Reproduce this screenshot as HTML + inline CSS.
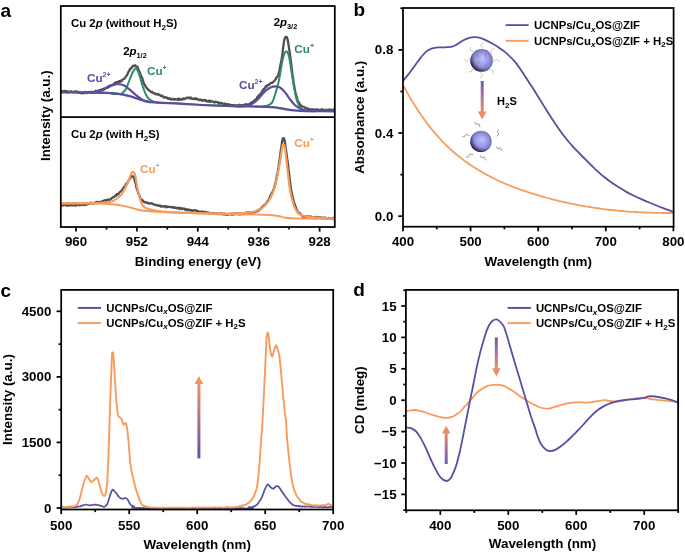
<!DOCTYPE html>
<html><head><meta charset="utf-8"><style>
html,body{margin:0;padding:0;background:#fff;width:685px;height:555px;overflow:hidden}
svg text{font-family:"Liberation Sans",sans-serif;font-weight:bold}
svg{will-change:transform}
</style></head><body>
<svg width="685" height="555" viewBox="0 0 685 555" style="display:block;font-family:'Liberation Sans',sans-serif;font-weight:bold"><text x="0.5" y="16.5" font-size="19" text-anchor="start" fill="#000" >a</text>
<text transform="translate(50.3,115.7) rotate(-90)" font-size="13.4" text-anchor="middle">Intensity (a.u.)</text>
<path d="M61.5,91 L61.9,91.5 L62.4,91.2 L63,91.6 L63.6,91.6 L64.3,90.9 L65.1,90.8 L65.8,92 L66.6,91.2 L67.3,91.2 L68,92.3 L68.7,91.6 L69.3,92.1 L70,91.6 L70.6,91.8 L71.2,91.2 L71.9,91.9 L72.6,92.2 L73.2,91.8 L73.9,92.1 L74.6,92 L75.2,91.2 L75.8,92.3 L76.4,92.1 L77,91.8 L77.6,91.5 L78.2,92.7 L78.8,92.3 L79.4,92.7 L80.1,93 L80.7,92.8 L81.3,93.2 L81.9,92.5 L82.5,93 L83.1,92.5 L83.7,93.2 L84.3,93.1 L84.9,92 L85.6,92 L86.2,92.1 L86.8,93.1 L87.4,92.3 L88,92.5 L88.6,92 L89.2,92.2 L89.8,92 L90.4,91.8 L91,92.1 L91.6,92 L92.2,92.4 L92.8,91.9 L93.5,92.2 L94.1,92 L94.7,92 L95.3,91.5 L95.9,90.7 L96.5,91.5 L97.1,91.5 L97.7,91.3 L98.4,90.7 L99,90.8 L99.6,89.9 L100.2,90.7 L100.9,90.2 L101.5,89.6 L102.1,89.1 L102.7,90.1 L103.2,90.1 L103.8,88.6 L104.5,89.3 L105.2,88.5 L105.8,87.8 L106.5,87.7 L107.1,88 L107.7,87.9 L108.3,86.3 L109,86.8 L109.6,85.7 L110.3,86.3 L110.9,85.3 L111.6,85.7 L112.3,85.5 L113,84.4 L113.6,84.8 L114.3,83.4 L114.9,82.8 L115.5,83.2 L116.2,82.1 L116.9,82.1 L117.5,82.2 L118.1,82.3 L118.7,81.4 L119.3,81.1 L119.9,81.9 L120.5,80.8 L121.2,81.3 L121.9,80.8 L122.5,79.6 L123.1,79.3 L123.7,79 L124.2,78.7 L125.1,77.7 L125.8,76.6 L126.5,75.7 L127.2,74.9 L127.9,73 L128.6,71.6 L129.2,71 L129.8,69.3 L130.4,68.5 L131,68.7 L131.7,67.3 L132.3,66.8 L133,65.7 L133.7,66.1 L134.5,66.1 L135.2,65.3 L135.9,66.2 L136.8,66.7 L137.5,66.9 L138.1,68.7 L138.8,70.2 L139.3,71.6 L139.9,72.6 L140.5,74.6 L141.2,76.3 L141.8,76.8 L142.5,78.8 L143.3,81.6 L144,83.9 L144.7,84.5 L145.5,86.3 L146.3,87.6 L147,88.2 L147.6,89.1 L148.1,89.7 L149.1,90.5 L149.6,91.1 L150.2,91.1 L150.8,91.5 L151.5,92.4 L152.2,91.8 L152.9,92.9 L153.6,93.4 L154.3,93.2 L154.9,93.3 L155.6,94.4 L156.2,93.8 L156.8,93.9 L157.4,94.4 L158,94.9 L158.7,94.2 L159.3,94.7 L160,95 L160.6,95.9 L161.1,95.6 L161.7,96.4 L162.3,95.7 L162.9,96.3 L163.5,97 L164.1,97.6 L164.7,97.3 L165.4,97.2 L166.1,97.3 L166.7,98 L167.2,97.7 L167.8,98.7 L168.4,98.9 L169,98.1 L169.7,98.4 L170.3,99.3 L170.9,99.2 L171.6,99.5 L172.2,99 L172.9,98.8 L173.5,99.1 L174.1,99.8 L174.7,99.1 L175.3,99.2 L175.9,99.3 L176.6,99.3 L177.2,99.3 L177.8,99.9 L178.4,98.8 L179,98.5 L179.6,99.8 L180.3,99.6 L180.9,99.7 L181.5,98.9 L182.1,99.5 L182.7,99.4 L183.3,98.4 L183.9,99 L184.6,99 L185.2,98.7 L185.8,98.4 L186.4,98 L187,98 L187.6,97.7 L188.2,97.5 L188.9,98.1 L189.5,97.7 L190.1,98.4 L190.7,97.4 L191.3,98.7 L192,98.4 L192.6,98.9 L193.2,98.9 L193.8,99.1 L194.5,98.7 L195.1,98.1 L195.7,99.2 L196.3,98.6 L197,98.9 L197.6,99.5 L198.2,99.4 L198.8,99.4 L199.4,100.2 L200.1,99.9 L200.7,99.6 L201.3,99.6 L201.9,100.5 L202.5,100.1 L203.1,100.6 L203.7,100.1 L204.4,100 L205,100.5 L205.6,101 L206.2,100.2 L206.8,101.2 L207.4,101.5 L208,101.4 L208.7,101.6 L209.3,100.5 L209.9,101.5 L210.5,101.9 L211.1,100.9 L211.7,101.3 L212.3,101.4 L213,101.9 L213.6,101.9 L214.2,102.1 L214.8,102.6 L215.4,101.6 L216.1,101.8 L216.7,102 L217.3,102.1 L217.9,102.2 L218.6,103.6 L219.2,103.5 L219.8,102.6 L220.4,103.3 L221.1,103.1 L221.7,103.2 L222.3,103.4 L222.9,103.9 L223.5,104 L224.2,103.8 L224.8,103.6 L225.4,103.9 L226,103.8 L226.6,104.5 L227.2,104.8 L227.8,104.5 L228.5,104.2 L229.1,104.4 L229.7,104.7 L230.3,105.1 L230.9,105.5 L231.5,105 L232.2,105.6 L232.8,105.4 L233.4,105.2 L234,105.2 L234.6,105.4 L235.2,105.7 L235.9,105.4 L236.5,105.8 L237.1,105.5 L237.7,105.2 L238.3,105.6 L239,105.7 L239.6,104.8 L240.3,105.3 L241,105.2 L241.7,105.8 L242.4,105.8 L243.1,104.9 L243.7,105.5 L244.4,105.3 L245,104.5 L245.6,104.6 L246.1,104.1 L246.9,104.9 L247.6,104.5 L248.2,104.7 L248.8,104.4 L249.4,104 L250,103.9 L250.5,103.5 L251,102.6 L251.8,103 L252.4,101.8 L253.1,101.7 L253.7,102.1 L254.3,100.6 L254.9,100 L255.6,99.3 L256.2,99.6 L256.9,97.9 L257.5,96.8 L258.1,97.2 L258.7,95.3 L259.4,95.5 L260,94.3 L260.8,93.6 L261.3,93 L261.9,91.7 L262.5,91.2 L263.2,89.3 L263.8,89.4 L264.5,88.3 L265.1,87.8 L265.7,86.3 L266.4,86.7 L267,86.4 L267.6,84.8 L268.2,84.8 L268.8,84.8 L269.4,84.8 L270,83.6 L270.7,83.1 L271.3,82.8 L272,82.9 L272.6,82.7 L273.2,81.8 L273.8,81.3 L274.6,80.6 L275.3,79.7 L275.9,78.8 L276.5,77.4 L277.3,76.7 L278,76 L278.6,73.5 L279.5,70.4 L280.3,65.5 L281.1,62.1 L281.9,57.8 L282.6,52.4 L283.2,47 L284.3,39.6 L285.1,37.5 L285.9,36.9 L286.7,36.9 L287.5,39 L288.2,42.8 L288.8,46.6 L290,54.2 L291.2,63.9 L292.4,73.9 L293,77.8 L293.6,82.2 L294.8,89.4 L295.5,93.2 L296.3,95.7 L296.9,97.5 L297.4,99.9 L298.1,101.8 L298.9,102.3 L299.7,104.1 L300.5,104.7 L301.3,106.1 L302,106.3 L302.9,106.5 L303.4,106.7 L304,106.8 L304.6,107.7 L305.2,107.9 L306,107.8 L306.5,108.3 L307,108.3 L307.6,109.1 L308.1,108.4 L308.7,109.7 L309.4,109.1 L310.2,109.3 L311,109.3 L311.5,109.8 L312,109.8 L312.5,109.5 L313,109.4 L313.5,109.8 L314.1,110 L314.6,109.4 L315.2,109.9 L315.8,110.3 L316.5,109.6 L317.1,109.3 L317.8,109.3 L318.5,110 L319.2,110 L320,110.4 L320.5,110.3 L321.1,109.5 L321.7,109.4 L322.3,109.5 L323,109.5 L323.6,110.2 L324.3,110.4 L325.1,110.5 L325.8,109.6 L326.5,110.5 L327.2,109.8 L327.9,109.9 L328.6,110.4 L329.3,109.5 L330,109.5 L330.6,110.6 L331.2,109.8 L331.8,109.9 L332.3,110.3 L332.8,110.4 L333.3,109.5 L333.7,110 L334,110.1" fill="none" stroke="#505050" stroke-width="2.3" stroke-linejoin="round" stroke-linecap="round" />
<path d="M61.5,91.8 C64.6,91.8 73,91.8 80,91.9 C87,92 97.4,92 103.8,92.2 C110.2,92.4 114.7,92.9 118.4,93.3 C122.1,93.7 123.6,94.2 126,94.7 C128.4,95.2 130.6,95.9 133,96.6 C135.4,97.3 137.9,98.4 140.3,99.1 C142.7,99.8 145.2,100.5 147.6,101 C150,101.5 152.6,101.6 155,101.8 C157.4,102 157.7,102.1 162.2,102.3 C166.7,102.5 175.8,102.9 182.1,103.2 C188.4,103.5 194.7,104.1 200,104.4 C205.3,104.7 208.2,104.8 214.2,105 C220.2,105.2 229.1,105.5 235.9,105.7 C242.7,105.9 249.9,105.9 255,106 C260.1,106.1 263.2,106.2 266.5,106.3 C269.8,106.5 272.6,106.7 275,106.9 C277.4,107.1 278.8,107.4 280.8,107.7 C282.8,108 284.9,108.6 287,108.9 C289.1,109.2 290.9,109.6 293.1,109.8 C295.3,110 297.2,110.2 300,110.3 C302.8,110.4 304.3,110.4 310,110.5 C315.7,110.6 330,110.7 334,110.7" fill="none" stroke="#2F8C66" stroke-width="1.0" stroke-linejoin="round" stroke-linecap="round" />
<path d="M112,93.9 C113,93.9 116.5,94 118,93.9 C119.5,93.9 120.4,93.9 121.3,93.6 C122.2,93.3 122.8,92.7 123.5,92 C124.2,91.3 125,90.5 125.7,89.2 C126.5,87.9 127.3,85.8 128,84 C128.7,82.2 129.4,80.3 130.1,78.5 C130.8,76.7 131.7,74.5 132.4,73 C133.1,71.5 133.9,70.1 134.5,69.4 C135.1,68.7 135.5,68.7 135.9,68.8 C136.3,68.9 136.8,69.3 137.2,69.8 C137.6,70.3 137.6,70.5 138.1,71.7 C138.6,72.9 139.4,75 140,77 C140.6,79 141.1,81.2 141.8,83.4 C142.5,85.6 143.3,88.1 144,90 C144.7,91.9 145.4,93.6 146.1,95 C146.8,96.4 147.6,97.4 148.3,98.2 C149,99 149.6,99.4 150.5,100 C151.4,100.6 152.8,101.2 154,101.6 C155.2,102 157.3,102.3 158,102.4" fill="none" stroke="#2F8C66" stroke-width="2.0" stroke-linejoin="round" stroke-linecap="round" />
<path d="M262,106.7 C262.8,106.6 265.1,106.4 266.5,105.9 C267.9,105.5 269.5,104.7 270.5,104 C271.5,103.3 271.9,103.3 272.7,101.5 C273.5,99.7 274.5,96.4 275.5,93 C276.5,89.6 277.6,86.8 278.8,81.1 C280,75.4 281.7,63.5 282.9,58.6 C284.1,53.7 285,51.8 286,51.5 C287,51.2 287.9,52 289,56.6 C290.1,61.2 291.6,73.1 292.6,79 C293.6,84.9 294.2,88.6 294.9,92 C295.5,95.4 295.9,97.2 296.5,99.3 C297.1,101.4 298,103.4 298.7,104.8 C299.4,106.2 299.6,106.7 300.6,107.6 C301.6,108.5 302.9,109.8 304.5,110.4 C306.1,111 309.1,111.1 310,111.2" fill="none" stroke="#2F8C66" stroke-width="2.0" stroke-linejoin="round" stroke-linecap="round" />
<path d="M61.5,92.4 C64.6,92.4 73,92.4 80,92.5 C87,92.6 97.4,92.6 103.8,92.8 C110.2,93 114.7,93.5 118.4,93.9 C122.1,94.3 123.6,94.8 126,95.3 C128.4,95.8 130.6,96.5 133,97.2 C135.4,97.9 137.9,99 140.3,99.7 C142.7,100.4 145.2,101.1 147.6,101.6 C150,102 152.6,102.2 155,102.4 C157.4,102.6 157.7,102.7 162.2,102.9 C166.7,103.1 175.8,103.5 182.1,103.8 C188.4,104.1 194.7,104.7 200,105 C205.3,105.3 208.2,105.4 214.2,105.6 C220.2,105.8 229.1,106.1 235.9,106.3 C242.7,106.5 249.9,106.5 255,106.6 C260.1,106.7 263.2,106.8 266.5,106.9 C269.8,107.1 272.6,107.3 275,107.5 C277.4,107.7 278.8,108 280.8,108.3 C282.8,108.6 284.9,109.2 287,109.5 C289.1,109.8 290.9,110.2 293.1,110.4 C295.3,110.6 297.2,110.8 300,110.9 C302.8,111 304.3,111 310,111.1 C315.7,111.2 330,111.3 334,111.3" fill="none" stroke="#5A4EA0" stroke-width="2.2" stroke-linejoin="round" stroke-linecap="round" />
<path d="M90,92.6 C91.1,92.5 94.2,92.6 96.5,92 C98.8,91.4 101.4,90.3 103.8,89.2 C106.2,88.1 108.7,86.3 111.1,85.5 C113.5,84.7 116.2,84.1 118.4,84.1 C120.6,84.1 122.2,84.5 124.2,85.5 C126.2,86.5 128.2,88.3 130.1,89.9 C132,91.5 133.9,93.4 135.9,95 C137.9,96.6 140.1,98.4 141.8,99.4 C143.5,100.5 144.6,100.8 146,101.3 C147.4,101.8 149.3,102 150,102.1" fill="none" stroke="#5A4EA0" stroke-width="2.2" stroke-linejoin="round" stroke-linecap="round" />
<path d="M238,106.4 C239.3,106.3 243.8,106.1 246,105.8 C248.2,105.5 249.5,105.1 251,104.4 C252.5,103.7 253.6,102.9 255,101.8 C256.4,100.7 257.9,99.3 259.2,98 C260.4,96.7 261.4,95.2 262.5,94 C263.6,92.8 264.4,91.7 265.7,90.6 C267,89.5 268.9,88.1 270.5,87.4 C272.1,86.7 273.8,86.3 275.4,86.3 C277,86.3 278.6,86.6 280.2,87.6 C281.8,88.6 283.5,90.5 285.1,92.4 C286.7,94.3 288.4,97.1 290,99.2 C291.6,101.3 293.2,103.5 294.8,105 C296.4,106.5 298.2,107.5 299.7,108.4 C301.2,109.3 302.3,109.8 304,110.2 C305.7,110.6 308,110.8 310,111 C312,111.2 315,111.2 316,111.2" fill="none" stroke="#5A4EA0" stroke-width="2.2" stroke-linejoin="round" stroke-linecap="round" />
<text x="71" y="27.1" font-size="11.4" text-anchor="start" fill="#000" >Cu 2<tspan font-style='italic'>p</tspan> (without H<tspan font-size='8' dy='2.5'>2</tspan><tspan dy='-2.5'>S)</tspan></text>
<text x="123.2" y="55.4" font-size="11.4" text-anchor="start" fill="#000" >2<tspan font-style='italic'>p</tspan><tspan font-size='7.4' dy='2.8'>1/2</tspan></text>
<text x="273.7" y="25.9" font-size="11.4" text-anchor="start" fill="#000" >2<tspan font-style='italic'>p</tspan><tspan font-size='7.4' dy='2.8'>3/2</tspan></text>
<text x="87" y="82" font-size="11.7" text-anchor="start" fill="#5A4EA0" >Cu<tspan font-size='7.2' dy='-5'>2+</tspan></text>
<text x="147" y="75" font-size="11.7" text-anchor="start" fill="#2F8C66" >Cu<tspan font-size='7.2' dy='-5'>+</tspan></text>
<text x="239" y="89" font-size="11.7" text-anchor="start" fill="#5A4EA0" >Cu<tspan font-size='7.2' dy='-5'>2+</tspan></text>
<text x="294.3" y="52.5" font-size="11.7" text-anchor="start" fill="#2F8C66" >Cu<tspan font-size='7.2' dy='-5'>+</tspan></text>
<path d="M61.5,204.9 L61.8,204.5 L62.2,205 L62.6,205.5 L63.1,204.8 L63.6,205 L64.1,204.4 L64.7,204.6 L65.2,205.2 L65.9,204.4 L66.5,205.5 L67.2,205.5 L67.8,204.4 L68.5,205.6 L69.2,204.8 L69.9,205.4 L70.7,205.4 L71.4,204.7 L72.1,205.3 L72.8,205.2 L73.6,205.4 L74.3,204.7 L75,205.4 L75.7,205.7 L76.3,205.2 L77,205 L77.6,204.4 L78.2,205 L78.8,204.8 L79.4,205.2 L79.9,205.2 L80.4,205 L81.2,204.4 L82,205 L82.7,204.9 L83.4,204.2 L84.1,205.1 L84.7,204.7 L85.3,203.9 L85.8,204.9 L86.4,203.7 L86.9,203.9 L87.4,204.3 L87.9,204 L88.5,203.9 L89,203.9 L89.5,203.5 L90.1,203.2 L90.7,202.9 L91.3,202.7 L91.9,203.5 L92.5,203.5 L93.1,203.1 L93.7,203.3 L94.3,202.7 L94.9,202.5 L95.5,202.6 L96.1,203.2 L96.7,201.9 L97.3,202.5 L97.9,202 L98.5,202.7 L99.1,202 L99.7,201.8 L100.3,201.8 L100.9,201.9 L101.5,202 L102.2,201.3 L102.8,201.8 L103.5,200.7 L104.2,200.7 L104.8,200.3 L105.5,200.2 L106.1,200.9 L106.8,200.7 L107.4,199.7 L108.1,199.5 L108.7,199.6 L109.3,199.8 L109.9,199.7 L110.5,199.3 L111.1,198.8 L111.8,197.8 L112.5,197.8 L113.2,197.1 L113.8,197.1 L114.5,196.7 L115.1,195.7 L115.8,195.3 L116.4,195.6 L117,194 L117.6,194.6 L118.2,194.2 L118.7,193.7 L119.3,192.4 L120,192 L120.7,191.3 L121.3,190.7 L122,190.4 L122.6,189.3 L123.2,188 L123.8,188 L124.3,186.8 L124.9,186.2 L125.4,185.7 L126.2,183.6 L127,183.6 L127.6,182.3 L128.3,181.1 L128.9,180.2 L129.5,179.2 L130.2,178 L130.9,177.6 L131.5,176.2 L132.1,176.4 L132.6,176.4 L133.3,176.4 L133.9,177.4 L134.6,179.9 L135.1,181.8 L135.7,183.2 L136.3,186.9 L137,189.4 L137.7,191 L138.3,193.1 L138.9,194.5 L139.5,195.7 L140.2,197.7 L140.9,199.4 L141.7,199.6 L142.2,200.8 L142.7,201 L143.1,200.6 L143.6,201.9 L144.2,201.7 L144.7,202.4 L145.4,202.3 L146.1,202.6 L146.9,202.3 L147.9,203.2 L148.4,203.5 L148.8,203.6 L149.3,203.2 L149.8,203.7 L150.4,203.5 L150.9,203.2 L151.5,203.2 L152,203.4 L152.6,203.8 L153.2,203.9 L153.8,204.5 L154.5,204.9 L155.1,204.9 L155.8,204.9 L156.5,205.3 L157.1,205 L157.8,205.4 L158.5,205.9 L159.2,205.6 L160,205.4 L160.7,206.6 L161.4,206.5 L162.2,206.1 L162.7,206.2 L163.3,206.5 L163.8,206.7 L164.4,206.3 L164.9,206 L165.5,206.4 L166.1,207.3 L166.7,206.5 L167.4,207 L168,206.7 L168.6,206.8 L169.3,206.8 L169.9,207.2 L170.6,207 L171.2,206.9 L171.9,207.1 L172.5,207.2 L173.2,207.7 L173.8,207.2 L174.5,207.2 L175.1,207.9 L175.7,207.9 L176.4,208.4 L177,207.6 L177.6,208.1 L178.2,208.2 L178.8,207.7 L179.4,209.1 L180,208.2 L180.5,208.1 L181.1,208.7 L181.6,208.3 L182.1,209 L182.6,208.7 L183.4,208.5 L184.1,208.5 L184.8,209.6 L185.5,209 L186.1,209.9 L186.7,209.5 L187.2,210.3 L187.8,209.5 L188.3,209.5 L188.8,209.6 L189.3,210.5 L189.8,210.3 L190.4,210 L190.9,209.8 L191.5,210.7 L192.1,211.2 L192.8,210.8 L193.5,210.1 L194.2,210.2 L195,210.4 L195.5,210.6 L196,210.5 L196.5,210.6 L197,211.5 L197.6,211.9 L198.1,211 L198.7,212.2 L199.2,211.6 L199.8,212.1 L200.4,212.4 L201,212.5 L201.6,211.3 L202.2,211.8 L202.8,212.3 L203.4,212.9 L204.1,211.7 L204.7,212.1 L205.3,213 L206,212 L206.6,212.5 L207.2,212.5 L207.9,213.1 L208.5,213.5 L209.1,212.5 L209.8,213.4 L210.4,213.4 L211.1,213.7 L211.7,213.3 L212.3,213.9 L212.9,213.2 L213.6,213.3 L214.2,213.1 L214.8,213.9 L215.4,213.6 L216,213.3 L216.6,213.2 L217.2,214 L217.8,213.9 L218.4,214.1 L219.1,213.7 L219.7,213.9 L220.3,213.4 L220.9,214.2 L221.6,213.3 L222.2,213.9 L222.8,214.4 L223.4,214.3 L224,213.5 L224.7,213.7 L225.3,214.6 L225.9,214.3 L226.5,214.7 L227.1,214.7 L227.8,214.1 L228.4,214.7 L229,214.5 L229.6,213.9 L230.2,214 L230.8,213.6 L231.4,214 L232,214.8 L232.5,213.6 L233.1,214.3 L233.7,213.6 L234.2,213.6 L234.8,214.3 L235.4,213.8 L235.9,213.5 L236.6,213.6 L237.3,214.3 L237.9,214.1 L238.6,213.3 L239.3,213.6 L240,214.6 L240.6,213.5 L241.3,213.9 L241.9,213.6 L242.6,214.1 L243.2,213.8 L243.9,214 L244.5,213.6 L245.1,213 L245.7,212.9 L246.3,212.7 L246.9,213.7 L247.5,212.6 L248.1,212.4 L248.7,213.7 L249.2,212.5 L249.7,213.4 L250.3,212.2 L250.8,212.6 L251.3,212.2 L251.7,213 L252.2,212.6 L253.1,212.4 L253.9,212.4 L254.6,212.4 L255.3,211.5 L255.9,211.6 L256.5,211.2 L257.1,210.5 L257.6,211.3 L258.1,210.7 L258.7,210.7 L259.2,209.5 L259.8,209.5 L260.4,208.9 L261,208.8 L261.7,207.4 L262.3,207.1 L263,206.7 L263.6,205.5 L264.3,205.5 L265,205 L265.6,203.8 L266.2,203.3 L266.9,202.5 L267.5,201.1 L268,200.4 L268.6,200.4 L269.3,198.3 L270,197.2 L270.6,195.4 L271.3,194.2 L271.9,192.8 L272.5,192.4 L273.1,190.6 L273.6,189.3 L274.2,187.8 L274.7,185.6 L275.5,183 L276.3,179.2 L276.9,175.6 L277.6,172.8 L278.2,169.2 L278.8,165.6 L279.5,160.3 L280.2,155.7 L280.8,150.1 L281.4,146.6 L281.9,143.1 L282.7,138.5 L283.3,139 L284,138.3 L284.9,141.9 L285.4,146.1 L286,149.8 L286.7,155 L287.4,160.3 L288,164.4 L288.6,170.2 L289.2,174.7 L289.8,180.1 L290.4,184.9 L291.1,189.8 L291.7,193.1 L292.3,195.5 L292.9,198.1 L293.6,201 L294.3,203.6 L295.1,205.3 L295.6,206.7 L296.2,208.7 L296.7,209.7 L297.3,211.1 L297.9,212.1 L298.6,212.8 L299.2,212.9 L299.9,213.4 L300.6,214.2 L301.3,215 L301.8,215.5 L302.3,215.9 L302.7,215.9 L303.1,216.8 L303.5,216.1 L304,216.5 L304.4,217.2 L305,217.1 L305.6,216.5 L306.4,216.5 L307.2,217.3 L308.2,216.3 L309.4,216.6 L309.8,217.2 L310.3,217.2 L310.7,216.8 L311.3,216.6 L311.8,216.9 L312.3,217.7 L312.9,217.4 L313.5,218.1 L314.2,217.9 L314.8,218.2 L315.5,216.9 L316.1,217.2 L316.8,217 L317.5,217.6 L318.2,217.5 L318.9,217.2 L319.7,217.9 L320.4,217.3 L321.1,217.7 L321.8,217.6 L322.6,218.4 L323.3,217.9 L324,217.7 L324.7,217.5 L325.4,218 L326.1,218.4 L326.8,218.5 L327.5,218.8 L328.1,218.7 L328.7,218 L329.3,217.8 L329.9,218.7 L330.5,218.8 L331,218.5 L331.6,218.9 L332,218.6 L332.5,218.2 L332.9,218.1 L333.3,217.9 L333.7,218.8 L334,219.2" fill="none" stroke="#505050" stroke-width="2.3" stroke-linejoin="round" stroke-linecap="round" />
<path d="M61.5,203.4 C68.1,203.4 90.9,203.1 100.9,203.4 C110.9,203.8 116.2,204.8 121.3,205.5 C126.4,206.2 128.1,207.1 131.5,207.9 C134.9,208.7 136.6,209.7 141.7,210.4 C146.8,211.1 152.5,211.5 162.2,212 C171.9,212.5 184.3,213 200,213.4 C215.7,213.8 243.5,214.1 256.3,214.5 C269.1,214.9 271.9,215.2 276.7,215.7 C281.5,216.2 281.5,217.2 284.9,217.7 C288.3,218.2 289,218.4 297.2,218.6 C305.4,218.8 327.9,218.8 334,218.8" fill="none" stroke="#F89B5C" stroke-width="2.0" stroke-linejoin="round" stroke-linecap="round" />
<path d="M61.5,203.4 C68.1,203.3 92.3,203.2 100.9,202.8 C109.5,202.4 109.7,202.2 113.1,200.8 C116.5,199.4 118.9,197.5 121.3,194.6 C123.7,191.7 125.7,187 127.4,183.4 C129.1,179.8 130.5,175.1 131.5,173.2 C132.5,171.3 132.6,171.9 133.2,172.2 C133.8,172.5 134.4,172.3 135.2,175.2 C135.9,178.1 136.6,184.7 137.7,189.5 C138.8,194.3 140.3,200.7 141.7,203.8 C143,206.9 143.1,206.7 145.8,207.9 C148.5,209.1 152,210.2 158.1,211 C164.2,211.8 176.4,212.5 182.6,212.8 C188.8,213.1 186.1,212.9 195,213 C203.9,213.1 226.4,213.8 235.9,213.6 C245.4,213.4 247.8,212.9 252.2,212 C256.6,211.1 259.3,210.3 262.4,207.9 C265.5,205.5 268.4,201.8 270.6,197.7 C272.8,193.6 274.2,189.2 275.7,183.4 C277.2,177.6 278.7,169.1 279.8,163 C280.9,156.9 281.7,149.7 282.3,146.6 C282.9,143.5 283.1,144.4 283.5,144.6 C283.9,144.8 284.3,144.2 284.9,147.6 C285.5,151 286.1,158 287,165 C287.9,172 288.8,182.7 290,189.5 C291.2,196.3 292.6,201.8 294.1,205.9 C295.6,210 296.6,212.2 299.2,214.1 C301.8,216 303.6,216.3 309.4,217.1 C315.2,217.8 329.9,218.3 334,218.6" fill="none" stroke="#F89B5C" stroke-width="2.2" stroke-linejoin="round" stroke-linecap="round" />
<text x="71" y="138.4" font-size="11.4" text-anchor="start" fill="#000" >Cu 2<tspan font-style='italic'>p</tspan> (with H<tspan font-size='8' dy='2.5'>2</tspan><tspan dy='-2.5'>S)</tspan></text>
<text x="140" y="172.8" font-size="11.7" text-anchor="start" fill="#F89B5C" >Cu<tspan font-size='7.2' dy='-5'>+</tspan></text>
<text x="294.2" y="146.6" font-size="11.7" text-anchor="start" fill="#F89B5C" >Cu<tspan font-size='7.2' dy='-5'>+</tspan></text>
<rect x="60.8" y="6" width="274.0" height="221" fill="none" stroke="#000" stroke-width="1.75"/>
<line x1="60.8" y1="117.2" x2="334.8" y2="117.2" stroke="#000" stroke-width="1.75"/>
<line x1="76" y1="227" x2="76" y2="231.6" stroke="#000" stroke-width="1.75"/>
<text x="76" y="246" font-size="13.3" text-anchor="middle" fill="#000" >960</text>
<line x1="136.9" y1="227" x2="136.9" y2="231.6" stroke="#000" stroke-width="1.75"/>
<text x="136.9" y="246" font-size="13.3" text-anchor="middle" fill="#000" >952</text>
<line x1="197.8" y1="227" x2="197.8" y2="231.6" stroke="#000" stroke-width="1.75"/>
<text x="197.8" y="246" font-size="13.3" text-anchor="middle" fill="#000" >944</text>
<line x1="258.7" y1="227" x2="258.7" y2="231.6" stroke="#000" stroke-width="1.75"/>
<text x="258.7" y="246" font-size="13.3" text-anchor="middle" fill="#000" >936</text>
<line x1="319.6" y1="227" x2="319.6" y2="231.6" stroke="#000" stroke-width="1.75"/>
<text x="319.6" y="246" font-size="13.3" text-anchor="middle" fill="#000" >928</text>
<line x1="106.5" y1="227" x2="106.5" y2="229.6" stroke="#000" stroke-width="1.75"/>
<line x1="167.3" y1="227" x2="167.3" y2="229.6" stroke="#000" stroke-width="1.75"/>
<line x1="228.2" y1="227" x2="228.2" y2="229.6" stroke="#000" stroke-width="1.75"/>
<line x1="289.1" y1="227" x2="289.1" y2="229.6" stroke="#000" stroke-width="1.75"/>
<text x="198" y="265.8" font-size="13.4" text-anchor="middle" fill="#000" >Binding energy (eV)</text>
<text x="353.5" y="16.3" font-size="19" text-anchor="start" fill="#000" >b</text>
<text transform="translate(364.3,117.3) rotate(-90)" font-size="13.4" text-anchor="middle">Absorbance (a.u.)</text>
<path d="M403.4,80.5 C404.3,79.3 407.3,75.8 409,73.6 C410.7,71.4 412,69.6 413.5,67.6 C415,65.5 416.5,63.3 418,61.3 C419.5,59.3 421,57.2 422.5,55.5 C424,53.8 425.5,52.1 427,51 C428.5,49.9 430,49.2 431.5,48.6 C433,48 434.5,47.8 436,47.6 C437.5,47.4 439,47.5 440.5,47.4 C442,47.3 443.6,47.3 445,47.3 C446.4,47.2 447.8,47.2 449,47.1 C450.2,47 451,46.9 452,46.6 C453,46.3 454,46 455,45.5 C456,45 456.6,44.7 458,43.8 C459.4,42.9 461.5,41.3 463.4,40.3 C465.3,39.3 467.3,38.4 469.2,37.9 C471.1,37.4 473.1,37 475,37.1 C476.9,37.2 478.9,37.6 480.9,38.2 C482.8,38.8 484.8,39.7 486.7,40.6 C488.6,41.5 490.7,42.7 492.6,43.8 C494.6,44.9 496.5,46 498.4,47.3 C500.3,48.6 502.2,49.8 504.2,51.4 C506.1,53 508.2,54.7 510.1,56.6 C512.1,58.5 514,60.5 515.9,62.9 C517.8,65.3 519.8,68.3 521.6,71 C523.5,73.7 525.2,76.5 527,79.3 C528.8,82.1 530.6,84.8 532.4,87.6 C534.2,90.4 536,93.3 537.8,96.2 C539.6,99.1 541.4,102 543.2,104.9 C545,107.8 546.8,110.8 548.6,113.6 C550.4,116.4 552.3,119.3 554.1,122 C555.9,124.7 557.7,127.4 559.5,129.9 C561.3,132.4 562.8,134.5 564.9,137.1 C567,139.7 569.5,142.8 572,145.6 C574.5,148.4 577.1,151 580,154 C582.9,157 586.8,160.8 589.6,163.6 C592.4,166.4 594.6,168.6 597,170.8 C599.4,173 601.8,175.1 604.2,177 C606.6,178.9 609.1,180.8 611.5,182.5 C613.9,184.2 616.4,185.8 618.8,187.3 C621.2,188.8 623.6,190.2 626,191.6 C628.4,193 630.9,194.3 633.4,195.5 C635.9,196.7 638.3,197.8 640.7,198.9 C643.1,200 645.6,201 648,202 C650.4,203 652.9,204 655.3,205 C657.7,206 660.5,207.1 662.6,207.9 C664.7,208.7 666.2,209.3 668,209.9 C669.8,210.5 672.5,211.3 673.4,211.6" fill="none" stroke="#5A4EA0" stroke-width="1.8" stroke-linejoin="round" stroke-linecap="round" />
<path d="M403.6,86.1 L405.6,89.8 L407.6,93.4 L409.6,96.9 L411.6,100.3 L413.6,103.5 L415.6,106.7 L417.6,109.8 L419.6,112.8 L421.6,115.8 L423.6,118.6 L425.6,121.3 L427.6,124 L429.6,126.6 L431.6,129.1 L433.6,131.5 L435.6,133.9 L437.6,136.2 L439.6,138.4 L441.6,140.5 L443.6,142.6 L445.6,144.6 L447.6,146.5 L449.6,148.4 L451.6,150.3 L453.6,152 L455.6,153.7 L457.6,155.4 L459.6,157 L461.6,158.6 L463.6,160.1 L465.6,161.6 L467.6,163 L469.6,164.4 L471.6,165.7 L473.6,167 L475.6,168.3 L477.6,169.6 L479.6,170.8 L481.6,171.9 L483.6,173.1 L485.6,174.2 L487.6,175.3 L489.6,176.3 L491.6,177.4 L493.6,178.4 L495.6,179.3 L497.6,180.3 L499.6,181.2 L501.6,182.1 L503.6,183 L505.6,183.8 L507.6,184.7 L509.6,185.5 L511.6,186.3 L513.6,187 L515.6,187.8 L517.6,188.5 L519.6,189.3 L521.6,190 L523.6,190.7 L525.6,191.3 L527.6,192 L529.6,192.7 L531.6,193.3 L533.6,193.9 L535.6,194.5 L537.6,195.2 L539.6,195.7 L541.6,196.3 L543.6,196.9 L545.6,197.5 L547.6,198 L549.6,198.5 L551.6,199.1 L553.6,199.6 L555.6,200.1 L557.6,200.6 L559.6,201.1 L561.6,201.5 L563.6,202 L565.6,202.4 L567.6,202.9 L569.6,203.3 L571.6,203.7 L573.6,204.1 L575.6,204.5 L577.6,204.9 L579.6,205.3 L581.6,205.7 L583.6,206 L585.6,206.4 L587.6,206.7 L589.6,207 L591.6,207.4 L593.6,207.7 L595.6,208 L597.6,208.2 L599.6,208.5 L601.6,208.8 L603.6,209.1 L605.6,209.3 L607.6,209.5 L609.6,209.8 L611.6,210 L613.6,210.2 L615.6,210.4 L617.6,210.6 L619.6,210.8 L621.6,211 L623.6,211.2 L625.6,211.3 L627.6,211.5 L629.6,211.6 L631.6,211.8 L633.6,211.9 L635.6,212 L637.6,212.1 L639.6,212.3 L641.6,212.4 L643.6,212.4 L645.6,212.5 L647.6,212.6 L649.6,212.7 L651.6,212.7 L653.6,212.8 L655.6,212.8 L657.6,212.9 L659.6,212.9 L661.6,212.9 L663.6,213 L665.6,213 L667.6,213 L669.6,213 L671.6,213 L673.4,213" fill="none" stroke="#F89B5C" stroke-width="1.8" stroke-linejoin="round" stroke-linecap="round" />
<rect x="403" y="8" width="270.6" height="218.7" fill="none" stroke="#000" stroke-width="1.75"/>
<line x1="403" y1="226.7" x2="403" y2="231.3" stroke="#000" stroke-width="1.75"/>
<text x="403" y="246.1" font-size="13.3" text-anchor="middle" fill="#000" >400</text>
<line x1="470.6" y1="226.7" x2="470.6" y2="231.3" stroke="#000" stroke-width="1.75"/>
<text x="470.6" y="246.1" font-size="13.3" text-anchor="middle" fill="#000" >500</text>
<line x1="538.2" y1="226.7" x2="538.2" y2="231.3" stroke="#000" stroke-width="1.75"/>
<text x="538.2" y="246.1" font-size="13.3" text-anchor="middle" fill="#000" >600</text>
<line x1="605.8" y1="226.7" x2="605.8" y2="231.3" stroke="#000" stroke-width="1.75"/>
<text x="605.8" y="246.1" font-size="13.3" text-anchor="middle" fill="#000" >700</text>
<line x1="673.4" y1="226.7" x2="673.4" y2="231.3" stroke="#000" stroke-width="1.75"/>
<text x="673.4" y="246.1" font-size="13.3" text-anchor="middle" fill="#000" >800</text>
<line x1="436.8" y1="226.7" x2="436.8" y2="229.3" stroke="#000" stroke-width="1.75"/>
<line x1="504.4" y1="226.7" x2="504.4" y2="229.3" stroke="#000" stroke-width="1.75"/>
<line x1="572" y1="226.7" x2="572" y2="229.3" stroke="#000" stroke-width="1.75"/>
<line x1="639.6" y1="226.7" x2="639.6" y2="229.3" stroke="#000" stroke-width="1.75"/>
<line x1="403" y1="216.2" x2="398.4" y2="216.2" stroke="#000" stroke-width="1.75"/>
<text x="393.3" y="220.7" font-size="13.3" text-anchor="end" fill="#000" >0.0</text>
<line x1="403" y1="133" x2="398.4" y2="133" stroke="#000" stroke-width="1.75"/>
<text x="393.3" y="137.5" font-size="13.3" text-anchor="end" fill="#000" >0.4</text>
<line x1="403" y1="49.9" x2="398.4" y2="49.9" stroke="#000" stroke-width="1.75"/>
<text x="393.3" y="54.4" font-size="13.3" text-anchor="end" fill="#000" >0.8</text>
<line x1="403" y1="174.6" x2="400.4" y2="174.6" stroke="#000" stroke-width="1.75"/>
<line x1="403" y1="91.5" x2="400.4" y2="91.5" stroke="#000" stroke-width="1.75"/>
<line x1="403" y1="8.3" x2="400.4" y2="8.3" stroke="#000" stroke-width="1.75"/>
<text x="538.3" y="265.7" font-size="13.4" text-anchor="middle" fill="#000" >Wavelength (nm)</text>
<line x1="505.6" y1="25.1" x2="528.6" y2="25.1" stroke="#5A4EA0" stroke-width="1.8"/>
<line x1="505.6" y1="40.8" x2="528.6" y2="40.8" stroke="#F89B5C" stroke-width="1.8"/>
<text x="534" y="29.3" font-size="11.4" text-anchor="start" fill="#000" >UCNPs/Cu<tspan font-style='italic' font-size='8' dy='2.5'>x</tspan><tspan dy='-2.5'>OS@ZIF</tspan></text>
<text x="534" y="44.8" font-size="11.4" text-anchor="start" fill="#000" >UCNPs/Cu<tspan font-style='italic' font-size='8' dy='2.5'>x</tspan><tspan dy='-2.5'>OS@ZIF + H</tspan><tspan font-size='8' dy='2.5'>2</tspan><tspan dy='-2.5'>S</tspan></text>
<defs><linearGradient id="gb" x1="0" y1="0" x2="0" y2="1"><stop offset="0" stop-color="#6A5CB8"/><stop offset="1" stop-color="#F08A6A"/></linearGradient><linearGradient id="gc" x1="0" y1="1" x2="0" y2="0"><stop offset="0" stop-color="#5E52B0"/><stop offset="1" stop-color="#F6915A"/></linearGradient><radialGradient id="sph" cx="0.5" cy="0.5" r="0.5" fx="0.56" fy="0.4"><stop offset="0" stop-color="#C2C2FF"/><stop offset="0.45" stop-color="#A2A2EC"/><stop offset="0.8" stop-color="#8686D2"/><stop offset="1" stop-color="#6A6AB4"/></radialGradient><radialGradient id="shd" cx="0.68" cy="0.3" r="0.9"><stop offset="0.58" stop-color="#15152E" stop-opacity="0"/><stop offset="0.74" stop-color="#15152E" stop-opacity="0.45"/><stop offset="0.84" stop-color="#15152E" stop-opacity="0.9"/><stop offset="1" stop-color="#15152E" stop-opacity="1"/></radialGradient></defs>
<rect x="480.7" y="81" width="3" height="31" fill="url(#gb)"/>
<path d="M477.8,111.5 L486.6,111.5 L482.2,119.5 Z" fill="#EE8B6E"/>
<text x="497" y="105.3" font-size="11" text-anchor="start" fill="#000" >H<tspan font-size='8' dy='2.5'>2</tspan><tspan dy='-2.5'>S</tspan></text>
<circle cx="481.6" cy="60.4" r="11.3" fill="url(#sph)"/>
<circle cx="481.6" cy="60.4" r="11.3" fill="url(#shd)"/>
<path d="M481.6,49.4 C481.7,49.3 482.1,49 482.2,48.8 C482.3,48.5 482.4,48.3 482.4,48.1 C482.4,47.9 482.3,47.7 482.1,47.4 C482,47.2 481.7,47 481.5,46.8 C481.3,46.6 481.1,46.4 481,46.1 C480.8,45.9 480.8,45.7 480.8,45.5 C480.9,45.3 481,45.1 481.2,44.9 C481.3,44.6 481.6,44.4 481.8,44.2 C482,44 482.2,43.8 482.3,43.5 C482.4,43.3 482.4,43 482.4,42.9" fill="none" stroke="#BFB598" stroke-width="0.8" stroke-linejoin="round" stroke-linecap="round" />
<path d="M489.4,52.6 C489.5,52.6 490,52.6 490.3,52.6 C490.5,52.5 490.7,52.4 490.9,52.3 C491,52.1 491.1,51.9 491.1,51.6 C491.2,51.3 491.1,51 491.1,50.7 C491.2,50.4 491.1,50.1 491.2,49.9 C491.3,49.6 491.4,49.4 491.6,49.3 C491.8,49.2 492,49.1 492.3,49.1 C492.6,49.1 492.9,49.1 493.2,49.1 C493.5,49.1 493.8,49.1 494,49 C494.2,48.9 494.4,48.6 494.5,48.6" fill="none" stroke="#BFB598" stroke-width="0.8" stroke-linejoin="round" stroke-linecap="round" />
<path d="M492.6,60.4 C492.7,60.5 493,60.9 493.2,61 C493.5,61.1 493.7,61.2 493.9,61.2 C494.1,61.2 494.3,61.1 494.6,60.9 C494.8,60.8 495,60.5 495.2,60.3 C495.4,60.1 495.6,59.9 495.9,59.8 C496.1,59.6 496.3,59.6 496.5,59.6 C496.7,59.7 496.9,59.8 497.2,60 C497.4,60.1 497.6,60.4 497.8,60.6 C498,60.8 498.2,61 498.5,61.1 C498.7,61.2 499,61.2 499.1,61.2" fill="none" stroke="#BFB598" stroke-width="0.8" stroke-linejoin="round" stroke-linecap="round" />
<path d="M489.4,68.2 C489.4,68.3 489.4,68.8 489.4,69.1 C489.5,69.3 489.6,69.5 489.7,69.7 C489.9,69.8 490.1,69.9 490.4,69.9 C490.7,70 491,69.9 491.3,69.9 C491.6,70 491.9,69.9 492.1,70 C492.4,70.1 492.6,70.2 492.7,70.4 C492.8,70.6 492.9,70.8 492.9,71.1 C492.9,71.4 492.9,71.7 492.9,72 C492.9,72.3 492.9,72.6 493,72.8 C493.1,73 493.4,73.2 493.4,73.3" fill="none" stroke="#BFB598" stroke-width="0.8" stroke-linejoin="round" stroke-linecap="round" />
<path d="M481.6,71.4 C481.5,71.5 481.1,71.8 481,72.1 C480.9,72.3 480.8,72.5 480.8,72.7 C480.8,72.9 480.9,73.1 481.1,73.4 C481.2,73.6 481.5,73.8 481.7,74 C481.9,74.2 482.1,74.4 482.2,74.7 C482.4,74.9 482.4,75.1 482.4,75.3 C482.3,75.5 482.2,75.7 482,76 C481.9,76.2 481.6,76.4 481.4,76.6 C481.2,76.8 481,77 480.9,77.2 C480.8,77.5 480.8,77.8 480.8,77.9" fill="none" stroke="#BFB598" stroke-width="0.8" stroke-linejoin="round" stroke-linecap="round" />
<path d="M473.8,68.2 C473.7,68.2 473.2,68.2 472.9,68.2 C472.7,68.3 472.5,68.4 472.3,68.5 C472.2,68.7 472.1,68.9 472.1,69.2 C472,69.5 472.1,69.8 472.1,70.1 C472,70.4 472.1,70.7 472,70.9 C471.9,71.2 471.8,71.4 471.6,71.5 C471.4,71.6 471.2,71.7 470.9,71.7 C470.6,71.7 470.3,71.7 470,71.7 C469.7,71.7 469.4,71.7 469.2,71.8 C469,71.9 468.8,72.2 468.7,72.2" fill="none" stroke="#BFB598" stroke-width="0.8" stroke-linejoin="round" stroke-linecap="round" />
<path d="M470.6,60.4 C470.5,60.3 470.2,59.9 470,59.8 C469.7,59.7 469.5,59.6 469.3,59.6 C469.1,59.6 468.9,59.7 468.7,59.9 C468.4,60 468.2,60.3 468,60.5 C467.8,60.7 467.6,60.9 467.4,61 C467.1,61.2 466.9,61.2 466.7,61.2 C466.5,61.1 466.3,61 466.1,60.8 C465.8,60.7 465.6,60.4 465.4,60.2 C465.2,60 465,59.8 464.8,59.7 C464.5,59.6 464.2,59.6 464.1,59.6" fill="none" stroke="#BFB598" stroke-width="0.8" stroke-linejoin="round" stroke-linecap="round" />
<path d="M473.8,52.6 C473.8,52.5 473.8,52 473.8,51.7 C473.7,51.5 473.6,51.3 473.5,51.1 C473.3,51 473.1,50.9 472.8,50.9 C472.5,50.8 472.2,50.9 471.9,50.9 C471.6,50.8 471.3,50.9 471.1,50.8 C470.8,50.7 470.6,50.6 470.5,50.4 C470.4,50.2 470.3,50 470.3,49.7 C470.3,49.4 470.3,49.1 470.3,48.8 C470.3,48.5 470.3,48.2 470.2,48 C470.1,47.8 469.8,47.6 469.8,47.5" fill="none" stroke="#BFB598" stroke-width="0.8" stroke-linejoin="round" stroke-linecap="round" />
<path d="M476.5,52.5 C476.5,52.6 476.3,52.8 476.3,53 C476.2,53.2 476.2,53.3 476.2,53.5 C476.1,53.6 476.1,53.8 476.2,53.9 C476.2,54 476.3,54.2 476.3,54.3 C476.4,54.4 476.5,54.5 476.7,54.6 C476.8,54.7 476.9,54.8 477.1,55 C477.2,55.1 477.4,55.2 477.5,55.3 C477.7,55.4 477.8,55.5 477.9,55.6 C478,55.7 478.1,55.8 478.2,56 C478.2,56.1 478.2,56.3 478.3,56.4" fill="none" stroke="#8C8470" stroke-width="0.8" stroke-linejoin="round" stroke-linecap="round" />
<path d="M486.5,53.8 C486.4,53.8 486.2,54 486,54.1 C485.9,54.2 485.8,54.3 485.7,54.4 C485.6,54.5 485.5,54.6 485.4,54.8 C485.4,54.9 485.4,55 485.4,55.2 C485.4,55.3 485.4,55.5 485.4,55.7 C485.5,55.8 485.5,56 485.6,56.2 C485.7,56.3 485.7,56.5 485.8,56.7 C485.8,56.8 485.9,57 485.9,57.2 C485.9,57.3 486,57.5 485.9,57.6 C485.9,57.7 485.8,57.9 485.8,58" fill="none" stroke="#8C8470" stroke-width="0.8" stroke-linejoin="round" stroke-linecap="round" />
<path d="M475.8,64.3 C475.9,64.3 476.2,64.4 476.3,64.4 C476.5,64.4 476.7,64.4 476.8,64.4 C477,64.4 477.1,64.4 477.2,64.3 C477.4,64.2 477.5,64.2 477.6,64.1 C477.7,63.9 477.8,63.8 477.8,63.7 C477.9,63.5 478,63.3 478.1,63.2 C478.1,63 478.2,62.8 478.3,62.7 C478.3,62.5 478.4,62.3 478.5,62.2 C478.6,62.1 478.7,62 478.8,61.9 C478.9,61.8 479.1,61.7 479.2,61.7" fill="none" stroke="#8C8470" stroke-width="0.8" stroke-linejoin="round" stroke-linecap="round" />
<path d="M486.8,64.8 C486.7,64.9 486.5,65 486.4,65.1 C486.2,65.2 486.1,65.4 486,65.5 C485.9,65.6 485.9,65.7 485.8,65.9 C485.8,66 485.8,66.1 485.8,66.3 C485.8,66.4 485.9,66.6 485.9,66.8 C486,66.9 486.1,67.1 486.1,67.2 C486.2,67.4 486.3,67.6 486.4,67.7 C486.5,67.9 486.5,68 486.6,68.2 C486.6,68.3 486.6,68.5 486.6,68.6 C486.6,68.8 486.5,69 486.5,69" fill="none" stroke="#8C8470" stroke-width="0.8" stroke-linejoin="round" stroke-linecap="round" />
<circle cx="481.0" cy="141.4" r="10.7" fill="url(#sph)"/>
<circle cx="481.0" cy="141.4" r="10.7" fill="url(#shd)"/>
<path d="M475,122.5 C475,122.6 475.1,123.1 475.2,123.4 C475.3,123.6 475.4,123.8 475.6,124 C475.7,124.1 476,124.2 476.2,124.2 C476.5,124.2 476.8,124.1 477.1,124.1 C477.4,124 477.7,123.9 478,123.9 C478.3,123.9 478.5,123.9 478.7,124 C478.9,124.1 479.1,124.2 479.2,124.4 C479.3,124.7 479.4,125 479.4,125.3 C479.5,125.5 479.5,125.9 479.6,126.2 C479.7,126.4 479.8,126.8 479.9,126.9" fill="none" stroke="#6A6454" stroke-width="0.7" stroke-linejoin="round" stroke-linecap="round" />
<path d="M498.5,130 C498.4,130.1 498,130.3 497.8,130.5 C497.6,130.7 497.4,130.9 497.4,131.1 C497.3,131.3 497.4,131.6 497.5,131.8 C497.6,132 497.8,132.3 497.9,132.5 C498.1,132.8 498.3,133 498.4,133.3 C498.6,133.5 498.7,133.8 498.7,134 C498.7,134.2 498.6,134.4 498.4,134.6 C498.3,134.8 498,135 497.8,135.2 C497.6,135.3 497.2,135.5 497,135.7 C496.8,135.9 496.6,136.1 496.5,136.2" fill="none" stroke="#6A6454" stroke-width="0.7" stroke-linejoin="round" stroke-linecap="round" />
<path d="M462.5,136.5 C462.6,136.6 463.1,136.8 463.3,136.9 C463.6,137 463.8,137 464,137 C464.2,136.9 464.4,136.8 464.6,136.6 C464.7,136.4 464.9,136.1 465,135.8 C465.2,135.6 465.3,135.3 465.4,135 C465.6,134.8 465.8,134.6 466,134.5 C466.2,134.4 466.4,134.4 466.6,134.4 C466.9,134.5 467.1,134.6 467.4,134.7 C467.7,134.9 468,135.1 468.2,135.2 C468.5,135.3 468.8,135.4 469,135.4" fill="none" stroke="#6A6454" stroke-width="0.7" stroke-linejoin="round" stroke-linecap="round" />
<path d="M496.5,147 C496.5,147.1 496.7,147.6 496.8,147.9 C496.9,148.1 497,148.3 497.2,148.4 C497.4,148.5 497.6,148.6 497.9,148.5 C498.1,148.5 498.4,148.4 498.7,148.3 C499,148.3 499.3,148.1 499.6,148.1 C499.9,148.1 500.1,148 500.3,148.1 C500.6,148.2 500.7,148.3 500.9,148.5 C501,148.7 501.1,149 501.2,149.3 C501.3,149.6 501.3,149.9 501.4,150.2 C501.5,150.4 501.7,150.8 501.8,150.9" fill="none" stroke="#6A6454" stroke-width="0.7" stroke-linejoin="round" stroke-linecap="round" />
<path d="M466.5,157 C466.6,157 467.1,157.2 467.4,157.2 C467.6,157.3 467.9,157.3 468.1,157.2 C468.3,157.1 468.4,156.9 468.5,156.7 C468.7,156.5 468.7,156.1 468.8,155.9 C468.9,155.6 469,155.2 469.1,155 C469.2,154.7 469.3,154.5 469.5,154.4 C469.7,154.2 469.9,154.2 470.1,154.2 C470.4,154.1 470.7,154.2 471,154.3 C471.2,154.4 471.6,154.5 471.8,154.6 C472.1,154.6 472.5,154.6 472.6,154.6" fill="none" stroke="#6A6454" stroke-width="0.7" stroke-linejoin="round" stroke-linecap="round" />
<path d="M480.5,156 C480.5,156.1 480.6,156.6 480.7,156.9 C480.8,157.1 481,157.3 481.1,157.4 C481.3,157.6 481.5,157.6 481.8,157.6 C482.1,157.6 482.4,157.5 482.7,157.5 C482.9,157.4 483.3,157.3 483.5,157.2 C483.8,157.2 484.1,157.2 484.3,157.3 C484.5,157.4 484.6,157.5 484.8,157.7 C484.9,157.9 485,158.2 485.1,158.5 C485.1,158.8 485.2,159.2 485.3,159.4 C485.4,159.7 485.5,160 485.6,160.1" fill="none" stroke="#6A6454" stroke-width="0.7" stroke-linejoin="round" stroke-linecap="round" />
<text x="0.5" y="296.9" font-size="19" text-anchor="start" fill="#000" >c</text>
<text transform="translate(11.6,399.5) rotate(-90)" font-size="13.4" text-anchor="middle">Intensity (a.u.)</text>
<path d="M62.2,507.7 L62.8,507.5 L63.6,507.6 L64.6,507.7 L65.7,507.6 L66.9,507.5 L68.1,507.3 L69.4,507.3 L70.6,507.1 L71.8,507.1 L72.9,507.3 L73.9,507.5 L74.8,507.1 L76.4,506.9 L77.7,506.7 L78.7,506.5 L79.7,506.5 L80.7,506.1 L81.8,506.1 L82.8,505.2 L83.8,505 L84.8,504.8 L85.8,504.5 L86.8,504.8 L87.9,505 L89,505.3 L90,505.3 L91,505 L92.2,505.2 L93.2,505 L94.3,504.7 L95.4,504.5 L96.5,504.9 L97.7,505.2 L98.8,505.1 L99.9,505.7 L101,505.8 L102.2,506.3 L103.3,506.8 L104.3,506.8 L105.4,506.2 L106.4,505.1 L107.3,504.1 L108.8,499.4 L110.2,494.9 L111.3,491.9 L112.4,489.7 L113.3,489.7 L114.3,491 L115.4,492.3 L116.6,493.5 L117.9,495.6 L119.1,497.1 L120.5,498.1 L122,498.6 L123.2,498.9 L124.5,498 L125.7,498 L126.9,498.7 L127.9,499.9 L129,502.2 L130.3,504.3 L131.2,505.3 L132.2,505.8 L133.8,506.6 L134,506.4 L133.4,506.8 L132.6,507.5 L132,507.2 L132.1,507.5 L133.6,507.9 L136.9,507.9 L142.5,508.2 L143.1,507.9 L143.6,508.1 L144.3,508.5 L144.9,508 L145.6,508.5 L146.2,508.1 L147,508.6 L147.7,508.4 L148.5,508.4 L149.2,508.1 L150,508 L150.9,508.4 L151.7,508.1 L152.6,508.1 L153.5,508.5 L154.4,508.5 L155.3,508 L156.2,508.6 L157.2,508.3 L158.2,508.3 L159.2,508.1 L160.2,508.3 L161.2,508.6 L162.3,508.2 L163.3,508.1 L164.4,508.1 L165.5,508.1 L166.6,508.3 L167.7,508.6 L168.8,508.1 L169.9,508.2 L171.1,508.6 L172.2,508.7 L173.4,508.6 L174.6,508.2 L175.7,508.3 L176.9,508.6 L178.1,508.4 L179.3,508.5 L180.5,508.3 L181.7,508.1 L183,508.3 L184.2,508.5 L185.4,508.5 L186.6,508.4 L187.9,508.3 L189.1,508.4 L190.4,508.3 L191.6,508.4 L192.8,508.6 L194.1,508.2 L195.3,508.4 L196.6,508.6 L197.8,508.6 L199,508.2 L200.3,508.6 L201.5,508.6 L202.7,508.1 L204,508.2 L205.2,508.2 L206.4,508.1 L207.6,508.6 L208.8,508.3 L210,508.6 L211.2,508.1 L212.4,508 L213.5,508.5 L214.7,508.5 L215.9,508.6 L217,508.4 L218.1,508.3 L219.3,508.5 L220.4,508.1 L221.5,508.3 L222.5,508.3 L223.6,508.1 L224.7,508.3 L225.7,508.2 L226.7,508.3 L227.8,508.2 L228.8,508.2 L229.7,508.2 L230.7,508.3 L231.6,508.6 L232.6,508.5 L233.5,508.5 L234.4,508.5 L235.2,508.1 L236.1,508.5 L236.9,508.1 L237.7,508 L238.5,508.2 L239.3,508.4 L240,508.1 L240.7,508.3 L241.4,508.1 L242.1,508.5 L242.7,508.2 L243.3,508.2 L243.9,508.2 L244.5,508.4 L245,508.5 L253.3,508.1 L250.6,507.8 L248.4,507.6 L249.3,507.1 L250.3,507.2 L251.3,507.3 L252.5,507 L253.6,506.3 L254.7,506.4 L255.7,505.5 L257,504.8 L258.2,503.1 L259.3,501.4 L260.3,500 L261.3,498.5 L262.7,495.2 L263.8,492.1 L264.9,489.2 L266.4,486 L267.7,484.4 L269.1,485.5 L270.5,487.1 L271.8,488.2 L273.2,488.8 L274.6,487.8 L276,486.4 L277.3,486 L278.7,486.7 L280,488.5 L281.5,491 L282.6,492.4 L283.9,494.3 L285.2,496.3 L286.3,497.7 L287.4,499 L288.6,500.7 L289.8,502.2 L290.8,503 L291.8,504 L292.9,504.9 L294.4,505.5 L295.2,505.8 L296,505.7 L296.8,506 L297.7,505.8 L298.6,506.4 L299.7,506.2 L300.9,506.3 L302.2,506.6 L303.6,506.4 L304.4,506.4 L305.3,506.8 L306.2,506.7 L307.2,506.4 L308.2,506.4 L309.3,506.7 L310.4,506.5 L311.5,507 L312.6,506.7 L313.8,506.8 L314.9,506.9 L316,507 L317.1,507 L318.1,507.1 L319.2,507.1 L320.1,507 L321,506.8 L321.9,507.4 L323.2,507.2 L324.5,506.9 L325.7,507.1 L326.9,507.3 L328.1,507.4 L329.1,506.9 L330.1,506.8 L331,507.1 L331.8,507.1 L332.4,507.3 L333,507.3" fill="none" stroke="#5A4EA0" stroke-width="1.7" stroke-linejoin="round" stroke-linecap="round" />
<path d="M62.2,507 L62.9,507 L64,507.1 L65.2,507.2 L66.5,506.8 L67.8,506.8 L68.9,506.6 L70.2,506.8 L71.5,506.3 L72.7,506.8 L73.8,506.4 L74.8,506.1 L76.4,505.2 L77.7,503.6 L78.7,501.4 L79.7,498.6 L80.7,495 L82.1,488.9 L83.6,483.5 L84.6,480.2 L85.7,477.6 L86.6,475.9 L87.7,476.6 L88.8,478.9 L89.9,480.4 L91,482 L91.9,481.8 L93,480.7 L94,480.1 L95.5,478.5 L96.9,477.8 L98,479.8 L99.1,483 L100.2,487.5 L101.4,492 L102.5,494.4 L103.6,495.5 L104.7,495.8 L105.8,493.3 L107.3,481.9 L108.3,460.3 L109.3,429.8 L109.9,412.1 L110.8,384.9 L111.7,361.4 L112.2,352.4 L113.1,352.6 L114,363.4 L115.3,384.9 L116.5,403.2 L118,415.7 L119.8,417.4 L121.6,419 L123.4,424.8 L124.8,423.4 L126.1,423.5 L127.3,429.8 L128.4,439.9 L130.3,463.6 L132,473.8 L133.4,479 L134.4,483.3 L135.5,487.5 L137.1,492.9 L139,498.1 L140.1,501.1 L141.6,504.3 L142.4,505.1 L143.3,505.4 L144.4,506.2 L146,506.3 L146.7,506.6 L147.3,506.8 L147.8,507 L148.4,507 L149.1,506.9 L150,507.5 L151.1,507.6 L152.5,507.5 L154.3,507.7 L156.5,507.6 L157.2,508 L157.9,507.8 L158.6,507.6 L159.4,507.9 L160.2,508.1 L161,507.7 L161.9,508.1 L162.8,507.8 L163.7,507.6 L164.6,507.9 L165.6,507.7 L166.6,507.9 L167.6,507.9 L168.6,507.6 L169.7,507.8 L170.7,508 L171.8,507.8 L172.9,507.8 L174,508 L175.1,507.8 L176.2,507.8 L177.3,507.8 L178.5,508 L179.6,507.6 L180.7,507.5 L181.9,507.9 L183,507.8 L184.1,507.6 L185.3,508 L186.4,508 L187.5,507.8 L188.6,508 L189.7,507.9 L190.8,507.9 L191.9,507.6 L192.9,507.4 L194,507.8 L195,507.8 L196,507.6 L197.1,507.7 L198.1,507.7 L199.2,507.5 L200.3,507.8 L201.4,507.7 L202.5,507.6 L203.7,507.4 L204.8,507.7 L205.9,507.5 L207.1,507.8 L208.2,507.5 L209.4,507.6 L210.6,507.5 L211.7,507.6 L212.8,507.7 L214,507.4 L215.1,507.3 L216.2,507.6 L217.4,507.4 L218.5,507.6 L219.5,507.4 L220.6,507.3 L221.7,507.6 L222.7,507.8 L223.7,507.8 L224.7,507.5 L225.7,507.4 L226.6,507.2 L227.5,507.3 L228.4,507.3 L229.3,507.7 L230.1,507.2 L230.9,507.7 L231.6,507.4 L232.3,507.3 L233,507.2 L233.6,507.6 L236.3,506.9 L238.1,506.9 L239.1,506.6 L239.7,506.1 L240,505.9 L240.4,506.1 L241,505.8 L242.3,505.5 L243.2,505.6 L244.1,505 L245,505.1 L246.1,504.7 L247.1,503.8 L248.4,502.9 L249.4,502.3 L250.5,500.8 L251.7,499.8 L252.9,498 L253.9,496.5 L255.3,492.7 L256.6,488.5 L257.6,483.5 L259.4,465.4 L261.3,437.7 L262.6,419.8 L264,392 L265.3,365 L266.5,338.2 L267.6,332.5 L268.5,334.4 L269.8,347.1 L271.2,355 L272.1,356.6 L273.4,353.1 L275.2,347.1 L276.4,345.3 L277.9,349.9 L279.3,355.1 L280.6,367.1 L282,383.2 L283.3,397.4 L285.1,415.2 L286,419.5 L287,437.6 L288.3,451.5 L289.8,465.5 L291.1,475.3 L292.5,483.4 L293.6,488.2 L294.8,491.6 L296.2,494.6 L297.2,496.5 L298.2,497.8 L299.3,499.5 L300.4,500.9 L301.7,502 L302.6,502.3 L303.6,502.9 L304.6,503.6 L305.7,504.1 L306.8,504 L307.9,504.1 L309.1,504.4 L310.1,505.1 L311.1,505 L312.1,505.2 L313.2,505.6 L314.2,505.5 L315.3,505.3 L316.3,505.7 L317.4,505.3 L318.3,505.5 L319.5,505.7 L320.7,505.4 L321.8,505.2 L322.9,505.5 L323.9,505.2 L324.8,505.5 L325.6,504.9 L327.3,504.5 L328.4,503.7 L329.8,504.6 L331.1,505.3 L333,506.6" fill="none" stroke="#F89B5C" stroke-width="1.9" stroke-linejoin="round" stroke-linecap="round" />
<rect x="61.2" y="289.9" width="272" height="219.6" fill="none" stroke="#000" stroke-width="1.75"/>
<line x1="61.2" y1="509.5" x2="61.2" y2="514.1" stroke="#000" stroke-width="1.75"/>
<text x="61.2" y="529.5" font-size="13.3" text-anchor="middle" fill="#000" >500</text>
<line x1="129.2" y1="509.5" x2="129.2" y2="514.1" stroke="#000" stroke-width="1.75"/>
<text x="129.2" y="529.5" font-size="13.3" text-anchor="middle" fill="#000" >550</text>
<line x1="197.2" y1="509.5" x2="197.2" y2="514.1" stroke="#000" stroke-width="1.75"/>
<text x="197.2" y="529.5" font-size="13.3" text-anchor="middle" fill="#000" >600</text>
<line x1="265.2" y1="509.5" x2="265.2" y2="514.1" stroke="#000" stroke-width="1.75"/>
<text x="265.2" y="529.5" font-size="13.3" text-anchor="middle" fill="#000" >650</text>
<line x1="333.2" y1="509.5" x2="333.2" y2="514.1" stroke="#000" stroke-width="1.75"/>
<text x="333.2" y="529.5" font-size="13.3" text-anchor="middle" fill="#000" >700</text>
<line x1="95.2" y1="509.5" x2="95.2" y2="512.1" stroke="#000" stroke-width="1.75"/>
<line x1="163.2" y1="509.5" x2="163.2" y2="512.1" stroke="#000" stroke-width="1.75"/>
<line x1="231.2" y1="509.5" x2="231.2" y2="512.1" stroke="#000" stroke-width="1.75"/>
<line x1="299.2" y1="509.5" x2="299.2" y2="512.1" stroke="#000" stroke-width="1.75"/>
<line x1="61.2" y1="508" x2="56.6" y2="508" stroke="#000" stroke-width="1.75"/>
<text x="51.3" y="512.5" font-size="13.3" text-anchor="end" fill="#000" >0</text>
<line x1="61.2" y1="442.4" x2="56.6" y2="442.4" stroke="#000" stroke-width="1.75"/>
<text x="51.3" y="446.9" font-size="13.3" text-anchor="end" fill="#000" >1500</text>
<line x1="61.2" y1="376.9" x2="56.6" y2="376.9" stroke="#000" stroke-width="1.75"/>
<text x="51.3" y="381.4" font-size="13.3" text-anchor="end" fill="#000" >3000</text>
<line x1="61.2" y1="311.3" x2="56.6" y2="311.3" stroke="#000" stroke-width="1.75"/>
<text x="51.3" y="315.8" font-size="13.3" text-anchor="end" fill="#000" >4500</text>
<line x1="61.2" y1="475.2" x2="58.6" y2="475.2" stroke="#000" stroke-width="1.75"/>
<line x1="61.2" y1="409.7" x2="58.6" y2="409.7" stroke="#000" stroke-width="1.75"/>
<line x1="61.2" y1="344.1" x2="58.6" y2="344.1" stroke="#000" stroke-width="1.75"/>
<text x="197.2" y="548.8" font-size="13.4" text-anchor="middle" fill="#000" >Wavelength (nm)</text>
<line x1="77.8" y1="307.9" x2="101" y2="307.9" stroke="#5A4EA0" stroke-width="1.9"/>
<line x1="77.8" y1="323.1" x2="101" y2="323.1" stroke="#F89B5C" stroke-width="1.9"/>
<text x="106.3" y="311.6" font-size="11.4" text-anchor="start" fill="#000" >UCNPs/Cu<tspan font-style='italic' font-size='8' dy='2.5'>x</tspan><tspan dy='-2.5'>OS@ZIF</tspan></text>
<text x="106.3" y="326.9" font-size="11.4" text-anchor="start" fill="#000" >UCNPs/Cu<tspan font-style='italic' font-size='8' dy='2.5'>x</tspan><tspan dy='-2.5'>OS@ZIF + H</tspan><tspan font-size='8' dy='2.5'>2</tspan><tspan dy='-2.5'>S</tspan></text>
<rect x="197.4" y="383" width="3" height="75.4" fill="url(#gc)"/>
<path d="M194.6,384 L203.2,384 L198.9,376 Z" fill="#F6915A"/>
<text x="353.2" y="296.4" font-size="19" text-anchor="start" fill="#000" >d</text>
<text transform="translate(364.3,400.1) rotate(-90)" font-size="13.4" text-anchor="middle">CD (mdeg)</text>
<path d="M406.6,411.3 C407.2,411.1 409.1,410.6 410.5,410.4 C411.9,410.2 413.2,409.9 414.7,410 C416.2,410.1 417.9,410.4 419.5,410.8 C421.1,411.2 422.8,411.7 424.4,412.2 C426,412.7 427.7,413.3 429.3,413.8 C430.9,414.3 432.7,414.9 434.2,415.4 C435.7,415.9 436.8,416.2 438.2,416.6 C439.6,417 441.1,417.3 442.3,417.5 C443.5,417.7 444.2,417.8 445.1,417.8 C446,417.9 446.9,417.9 447.9,417.8 C448.8,417.7 449.9,417.5 450.8,417.2 C451.8,416.9 452.7,416.6 453.6,416.2 C454.5,415.8 455.1,415.2 456.2,414.5 C457.3,413.8 458.8,413.2 460.1,411.9 C461.5,410.6 463.2,408.1 464.3,406.9 C465.4,405.7 465.2,406.3 466.6,404.8 C468,403.3 470.8,399.7 472.4,397.8 C474,395.9 475.1,394.6 476.5,393.2 C477.9,391.8 479.2,390.7 480.5,389.7 C481.8,388.7 483.1,388.1 484.5,387.4 C485.9,386.7 487.2,386.1 488.6,385.7 C490,385.3 491.6,385.1 493,384.9 C494.4,384.7 495.8,384.6 497.2,384.6 C498.6,384.7 500,384.9 501.3,385.2 C502.6,385.5 503.6,385.9 504.9,386.5 C506.2,387.1 507.6,387.8 509,388.6 C510.4,389.4 511.7,390.2 513,391.1 C514.3,392 515.6,392.9 517,393.9 C518.4,394.9 519.7,396 521.1,397 C522.5,398 524.1,398.8 525.5,399.7 C526.9,400.6 527.6,401.4 529.2,402.3 C530.8,403.2 533.2,404.2 535,405.1 C536.8,406 538.1,406.9 540,407.5 C541.9,408.1 544.7,408.6 546.4,408.7 C548.1,408.8 548.8,408.6 550,408.4 C551.2,408.1 552.2,407.7 553.9,407.2 C555.6,406.7 558.1,405.8 560.2,405.2 C562.3,404.6 564.4,404 566.5,403.6 C568.6,403.2 570.8,402.8 572.9,402.6 C575,402.4 577.5,402.2 579.2,402.2 C580.9,402.2 581.8,402.3 583,402.4 C584.2,402.5 585.5,402.7 586.7,402.7 C587.9,402.7 589,402.4 590,402.3 C591,402.2 591.6,402.1 593,401.9 C594.4,401.7 596.2,401.4 598.1,401.1 C600,400.8 602.8,400.3 604.4,400.2 C606,400.1 607,400.5 608,400.6 C609,400.8 609.5,401 610.7,401.1 C611.9,401.2 613.6,401.5 615,401.5 C616.4,401.5 617.8,401.4 619,401.3 C620.2,401.2 620.7,401.1 622,400.8 C623.3,400.6 625.2,400.1 627,399.8 C628.8,399.5 631.1,399.1 632.9,398.8 C634.7,398.5 636.2,398.2 638,398 C639.8,397.8 642.4,397.6 643.9,397.6 C645.4,397.6 646,398 647,398.2 C648,398.4 649,398.8 650,399 C651,399.2 651.8,399.3 653,399.4 C654.2,399.5 655.6,399.6 657,399.8 C658.4,400 659.6,400.1 661.4,400.3 C663.2,400.5 665.3,400.6 668,400.9 C670.7,401.2 676.2,401.7 677.8,401.9" fill="none" stroke="#F89B5C" stroke-width="1.8" stroke-linejoin="round" stroke-linecap="round" />
<path d="M406.6,427.6 C407.4,427.7 409.9,427.7 411.5,428.4 C413.1,429.1 414.7,429.9 416.3,431.6 C417.9,433.4 419.6,436.1 421.2,438.9 C422.8,441.7 424.5,445.2 426.1,448.6 C427.7,452.1 429.3,456.1 430.9,459.6 C432.5,463.1 434.2,466.7 435.8,469.7 C437.4,472.7 438.9,475.7 440.7,477.6 C442.4,479.5 444.7,480.8 446.3,481 C447.9,481.2 448.9,480.7 450.4,478.6 C451.9,476.5 454,471.3 455.2,468.3 C456.4,465.3 456.8,463.4 457.6,460.4 C458.4,457.4 459.3,454.1 460.1,450.4 C460.9,446.7 461.6,443.6 462.6,438.4 C463.7,433.2 465.2,425 466.4,419.2 C467.5,413.4 468.6,408.2 469.5,403.4 C470.4,398.6 470.7,397.4 472.1,390.6 C473.5,383.8 475.9,370.8 477.8,362.4 C479.7,354 481.7,346.4 483.6,340.2 C485.5,334 487,328.7 489.1,325.2 C491.2,321.7 493.9,319.4 496.2,319.4 C498.5,319.4 501.3,323 502.9,325 C504.4,327 504.6,328.6 505.5,331.3 C506.4,334 507.5,337.6 508.5,341 C509.5,344.4 509.9,346.2 511.5,351.6 C513.1,357 515.8,366 518,373.2 C520.2,380.4 522.3,387.7 524.5,394.9 C526.7,402.1 529.2,411 531,416.5 C532.8,422 533.9,424.6 535,427.9 C536.1,431.1 536.5,433.2 537.5,436 C538.5,438.8 539.8,442.3 541.3,444.6 C542.8,446.9 544.8,448.9 546.4,450 C548,451.1 549.3,451.1 550.8,451.1 C552.3,451.1 553.6,450.6 555.2,449.9 C556.8,449.2 558.3,448.2 560.2,446.8 C562.1,445.4 564.4,443.6 566.5,441.7 C568.6,439.8 570.8,437.5 572.9,435.4 C575,433.3 577.1,431.3 579.2,429.1 C581.3,426.9 583.4,424.5 585.5,422.2 C587.6,419.9 589.7,417.5 591.8,415.4 C593.9,413.3 596,411.4 598.1,409.8 C600.2,408.2 602.3,407 604.4,405.9 C606.5,404.8 608.8,403.9 610.7,403.2 C612.6,402.5 614.1,402.1 616,401.6 C617.9,401.1 620,400.7 622,400.4 C624,400.1 625.8,399.8 628,399.6 C630.2,399.4 633.1,399.2 635.1,399.1 C637.1,399 638.5,398.9 640,398.7 C641.5,398.5 642.8,398.3 644,398 C645.2,397.7 645.9,397.1 647,396.8 C648.1,396.5 649.1,396.2 650.4,396.1 C651.7,396.1 653.2,396.2 655,396.5 C656.8,396.8 659.6,397.2 661.4,397.6 C663.2,398 664.5,398.2 666,398.6 C667.5,399 668.1,399.1 670.1,399.7 C672.1,400.3 676.5,401.9 677.8,402.3" fill="none" stroke="#5A4EA0" stroke-width="1.8" stroke-linejoin="round" stroke-linecap="round" />
<rect x="405.9" y="289.9" width="272.2" height="220.4" fill="none" stroke="#000" stroke-width="1.75"/>
<line x1="440.3" y1="510.3" x2="440.3" y2="514.9" stroke="#000" stroke-width="1.75"/>
<text x="440.3" y="529.6" font-size="13.3" text-anchor="middle" fill="#000" >400</text>
<line x1="508.3" y1="510.3" x2="508.3" y2="514.9" stroke="#000" stroke-width="1.75"/>
<text x="508.3" y="529.6" font-size="13.3" text-anchor="middle" fill="#000" >500</text>
<line x1="576.2" y1="510.3" x2="576.2" y2="514.9" stroke="#000" stroke-width="1.75"/>
<text x="576.2" y="529.6" font-size="13.3" text-anchor="middle" fill="#000" >600</text>
<line x1="644.2" y1="510.3" x2="644.2" y2="514.9" stroke="#000" stroke-width="1.75"/>
<text x="644.2" y="529.6" font-size="13.3" text-anchor="middle" fill="#000" >700</text>
<line x1="406.3" y1="510.3" x2="406.3" y2="512.9" stroke="#000" stroke-width="1.75"/>
<line x1="474.3" y1="510.3" x2="474.3" y2="512.9" stroke="#000" stroke-width="1.75"/>
<line x1="542.3" y1="510.3" x2="542.3" y2="512.9" stroke="#000" stroke-width="1.75"/>
<line x1="610.2" y1="510.3" x2="610.2" y2="512.9" stroke="#000" stroke-width="1.75"/>
<line x1="678.2" y1="510.3" x2="678.2" y2="512.9" stroke="#000" stroke-width="1.75"/>
<line x1="405.9" y1="306" x2="401.3" y2="306" stroke="#000" stroke-width="1.75"/>
<text x="396.6" y="310.5" font-size="13.3" text-anchor="end" fill="#000" >15</text>
<line x1="405.9" y1="337.4" x2="401.3" y2="337.4" stroke="#000" stroke-width="1.75"/>
<text x="396.6" y="341.9" font-size="13.3" text-anchor="end" fill="#000" >10</text>
<line x1="405.9" y1="368.8" x2="401.3" y2="368.8" stroke="#000" stroke-width="1.75"/>
<text x="396.6" y="373.3" font-size="13.3" text-anchor="end" fill="#000" >5</text>
<line x1="405.9" y1="400.2" x2="401.3" y2="400.2" stroke="#000" stroke-width="1.75"/>
<text x="396.6" y="404.7" font-size="13.3" text-anchor="end" fill="#000" >0</text>
<line x1="405.9" y1="431.6" x2="401.3" y2="431.6" stroke="#000" stroke-width="1.75"/>
<text x="396.6" y="436.1" font-size="13.3" text-anchor="end" fill="#000" >−5</text>
<line x1="405.9" y1="463" x2="401.3" y2="463" stroke="#000" stroke-width="1.75"/>
<text x="396.6" y="467.5" font-size="13.3" text-anchor="end" fill="#000" >−10</text>
<line x1="405.9" y1="494.4" x2="401.3" y2="494.4" stroke="#000" stroke-width="1.75"/>
<text x="396.6" y="498.9" font-size="13.3" text-anchor="end" fill="#000" >−15</text>
<line x1="405.9" y1="290.3" x2="403.3" y2="290.3" stroke="#000" stroke-width="1.75"/>
<line x1="405.9" y1="321.7" x2="403.3" y2="321.7" stroke="#000" stroke-width="1.75"/>
<line x1="405.9" y1="353.1" x2="403.3" y2="353.1" stroke="#000" stroke-width="1.75"/>
<line x1="405.9" y1="384.5" x2="403.3" y2="384.5" stroke="#000" stroke-width="1.75"/>
<line x1="405.9" y1="415.9" x2="403.3" y2="415.9" stroke="#000" stroke-width="1.75"/>
<line x1="405.9" y1="447.3" x2="403.3" y2="447.3" stroke="#000" stroke-width="1.75"/>
<line x1="405.9" y1="478.7" x2="403.3" y2="478.7" stroke="#000" stroke-width="1.75"/>
<line x1="405.9" y1="510.1" x2="403.3" y2="510.1" stroke="#000" stroke-width="1.75"/>
<text x="542.5" y="548.3" font-size="13.4" text-anchor="middle" fill="#000" >Wavelength (nm)</text>
<line x1="507.6" y1="307.9" x2="530.9" y2="307.9" stroke="#5A4EA0" stroke-width="1.9"/>
<line x1="507.6" y1="323.1" x2="530.9" y2="323.1" stroke="#F89B5C" stroke-width="1.9"/>
<text x="535.9" y="312.1" font-size="11.4" text-anchor="start" fill="#000" >UCNPs/Cu<tspan font-style='italic' font-size='8' dy='2.5'>x</tspan><tspan dy='-2.5'>OS@ZIF</tspan></text>
<text x="535.9" y="327.2" font-size="11.4" text-anchor="start" fill="#000" >UCNPs/Cu<tspan font-style='italic' font-size='8' dy='2.5'>x</tspan><tspan dy='-2.5'>OS@ZIF + H</tspan><tspan font-size='8' dy='2.5'>2</tspan><tspan dy='-2.5'>S</tspan></text>
<defs><linearGradient id="gd1" x1="0" y1="0" x2="0" y2="1"><stop offset="0" stop-color="#6A5CB8"/><stop offset="1" stop-color="#EE8B6E"/></linearGradient><linearGradient id="gd2" x1="0" y1="1" x2="0" y2="0"><stop offset="0" stop-color="#6A5CB8"/><stop offset="1" stop-color="#EE8B6E"/></linearGradient></defs>
<rect x="494.8" y="337.4" width="3" height="31.5" fill="url(#gd1)"/>
<path d="M492.2,368.3 L500.6,368.3 L496.4,376.4 Z" fill="#EE8B6E"/>
<rect x="444.7" y="433" width="3" height="31" fill="url(#gd2)"/>
<path d="M442,433.6 L450.4,433.6 L446.2,425.8 Z" fill="#EE8B6E"/></svg>
</body></html>
